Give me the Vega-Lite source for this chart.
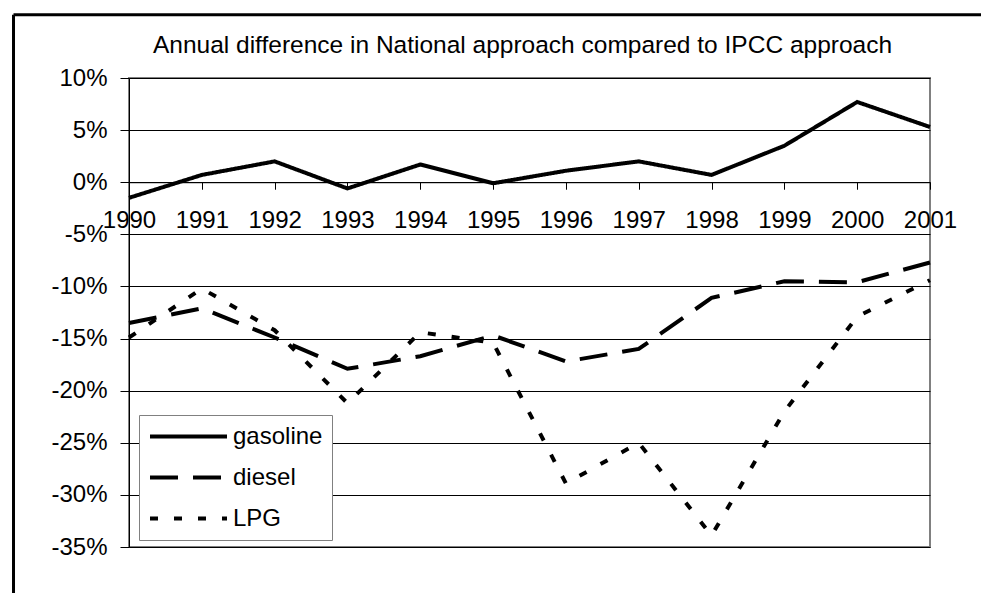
{
  "$schema": "https://vega.github.io/schema/vega-lite/v6.json",
  "width": 801,
  "height": 469,
  "autosize": {"type": "none"},
  "padding": {"left": 129, "top": 78, "right": 51, "bottom": 46},
  "background": "white",
  "title": {
    "text": "Annual difference in National approach compared to IPCC approach",
    "frame": "group",
    "fontSize": 24.5,
    "font": "Liberation Sans",
    "fontWeight": "normal",
    "baseline": "alphabetic",
    "offset": -64,
    "dx": -7,
    "color": "black"
  },
  "config": {
    "view": {"stroke": "#808080", "strokeWidth": 2},
    "font": "Liberation Sans"
  },
  "layer": [
    {
      "data": {
        "values": [
          {"year": 1990, "fuel": "gasoline", "value": -1.5},
          {"year": 1991, "fuel": "gasoline", "value": 0.7},
          {"year": 1992, "fuel": "gasoline", "value": 2.0},
          {"year": 1993, "fuel": "gasoline", "value": -0.6},
          {"year": 1994, "fuel": "gasoline", "value": 1.7},
          {"year": 1995, "fuel": "gasoline", "value": -0.1},
          {"year": 1996, "fuel": "gasoline", "value": 1.1},
          {"year": 1997, "fuel": "gasoline", "value": 2.0},
          {"year": 1998, "fuel": "gasoline", "value": 0.7},
          {"year": 1999, "fuel": "gasoline", "value": 3.5},
          {"year": 2000, "fuel": "gasoline", "value": 7.7},
          {"year": 2001, "fuel": "gasoline", "value": 5.3},
          {"year": 1990, "fuel": "diesel", "value": -13.5},
          {"year": 1991, "fuel": "diesel", "value": -12.1},
          {"year": 1992, "fuel": "diesel", "value": -14.9},
          {"year": 1993, "fuel": "diesel", "value": -17.9},
          {"year": 1994, "fuel": "diesel", "value": -16.7},
          {"year": 1995, "fuel": "diesel", "value": -14.7},
          {"year": 1996, "fuel": "diesel", "value": -17.2},
          {"year": 1997, "fuel": "diesel", "value": -16.0},
          {"year": 1998, "fuel": "diesel", "value": -11.1},
          {"year": 1999, "fuel": "diesel", "value": -9.5},
          {"year": 2000, "fuel": "diesel", "value": -9.6},
          {"year": 2001, "fuel": "diesel", "value": -7.7},
          {"year": 1990, "fuel": "LPG", "value": -14.9},
          {"year": 1991, "fuel": "LPG", "value": -10.2},
          {"year": 1992, "fuel": "LPG", "value": -14.2},
          {"year": 1993, "fuel": "LPG", "value": -21.2},
          {"year": 1994, "fuel": "LPG", "value": -14.4},
          {"year": 1995, "fuel": "LPG", "value": -15.4},
          {"year": 1996, "fuel": "LPG", "value": -28.9},
          {"year": 1997, "fuel": "LPG", "value": -25.0},
          {"year": 1998, "fuel": "LPG", "value": -33.9},
          {"year": 1999, "fuel": "LPG", "value": -22.0},
          {"year": 2000, "fuel": "LPG", "value": -12.9},
          {"year": 2001, "fuel": "LPG", "value": -9.4}
        ]
      },
      "mark": {"type": "line", "strokeWidth": 4, "color": "black", "strokeCap": "butt"},
      "encoding": {
        "x": {
          "field": "year",
          "type": "quantitative",
          "scale": {"domain": [1990, 2001], "nice": false, "zero": false},
          "axis": {
            "title": null,
            "values": [1990, 1991, 1992, 1993, 1994, 1995, 1996, 1997, 1998, 1999, 2000, 2001],
            "format": "d",
            "offset": {"expr": "scale('y', 0) - height"},
            "grid": false,
            "domainColor": "black",
            "domainWidth": 1,
            "tickColor": "black",
            "tickSize": 7,
            "labelFont": "Liberation Sans",
            "labelFontSize": 24,
            "labelColor": "black",
            "labelPadding": 19,
            "labelOverlap": false,
            "labelFlush": false,
            "labelBound": false
          }
        },
        "y": {
          "field": "value",
          "type": "quantitative",
          "scale": {"domain": [-35, 10], "nice": false, "zero": false},
          "axis": {
            "title": null,
            "values": [-35, -30, -25, -20, -15, -10, -5, 0, 5, 10],
            "labelExpr": "datum.value + '%'",
            "grid": true,
            "gridColor": "black",
            "gridWidth": 1,
            "domainColor": "black",
            "domainWidth": 1,
            "tickColor": "black",
            "tickSize": 9,
            "labelFont": "Liberation Sans",
            "labelFontSize": 24,
            "labelColor": "black",
            "labelPadding": 13,
            "labelOverlap": false,
            "labelFlush": false,
            "labelBound": false
          }
        },
        "strokeDash": {
          "field": "fuel",
          "type": "nominal",
          "scale": {"domain": ["gasoline", "diesel", "LPG"], "range": [[1, 0], [28, 15], [8, 16]]},
          "legend": {
            "title": null,
            "orient": "none",
            "legendX": 10,
            "legendY": 337,
            "padding": 9,
            "clipHeight": 25,
            "rowPadding": 16,
            "symbolType": "stroke",
            "symbolSize": 5929,
            "symbolStrokeWidth": 4,
            "symbolStrokeColor": "black",
            "symbolOffset": 0,
            "labelOffset": 4,
            "labelFont": "Liberation Sans",
            "labelFontSize": 24,
            "labelColor": "black",
            "strokeColor": "#808080",
            "fillColor": "white"
          }
        }
      }
    },
    {
      "data": {"values": [{"edge": "top"}]},
      "mark": {"type": "rule", "color": "black", "strokeWidth": 3, "clip": false},
      "encoding": {
        "x": {"datum": 1988.414, "type": "quantitative"},
        "x2": {"datum": 2005},
        "y": {"datum": 16.07, "type": "quantitative"}
      }
    },
    {
      "data": {"values": [{"edge": "left"}]},
      "mark": {"type": "rule", "color": "black", "strokeWidth": 3, "clip": false},
      "encoding": {
        "x": {"datum": 1988.414, "type": "quantitative"},
        "y": {"datum": 16.07, "type": "quantitative"},
        "y2": {"datum": -45}
      }
    }
  ]
}
